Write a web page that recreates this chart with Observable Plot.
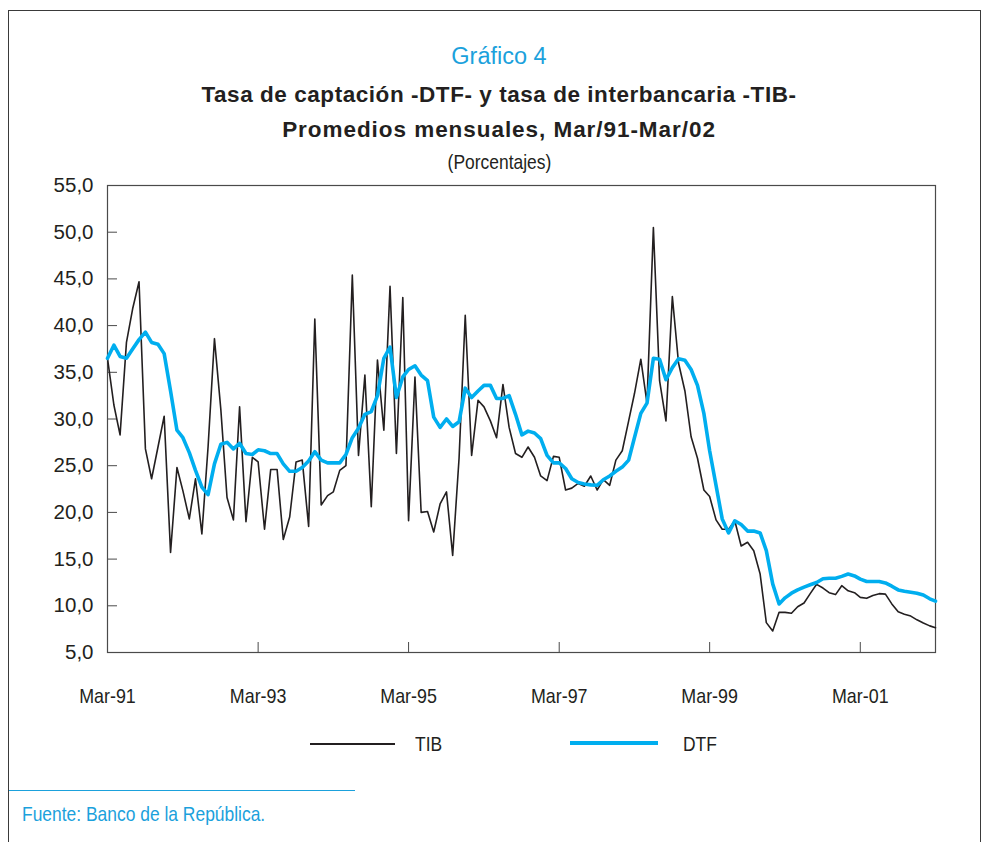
<!DOCTYPE html>
<html>
<head>
<meta charset="utf-8">
<script src="https://cdn.jsdelivr.net/npm/d3@7"></script>
<script src="https://cdn.jsdelivr.net/npm/@observablehq/plot@0.6"></script>
<style>
  html, body { margin: 0; padding: 0; background: #fff; }
  #page { position: relative; width: 984px; height: 842px; overflow: hidden; background: #fff;
          font-family: "Liberation Sans", Arial, sans-serif; color: #231f20; }
  #box { position: absolute; left: 8px; top: 10px; width: 971px; height: 840px;
         border-left: 1px solid #3a3a3a; border-top: 1px solid #3a3a3a; border-right: 1px solid #3a3a3a; }
  .center { position: absolute; left: 0; width: 998px; text-align: center; white-space: nowrap; }
  .cond { display: inline-block; transform: scaleX(0.83); }
  .center .cond { transform-origin: 50% 50%; }
  #gnum { top: 43px; font-size: 23.5px; color: #1ba1dc; }
  #t1 { top: 82px; font-weight: bold; font-size: 22.5px; letter-spacing: 0.55px; }
  #t2 { top: 117px; font-weight: bold; font-size: 22.5px; letter-spacing: 0.95px; }
  #t3 { top: 150px; font-size: 21px; }
  #chart { position: absolute; left: 0; top: 170px; }
  .leg { position: absolute; font-size: 21px; white-space: nowrap; }
  .leg .cond, #fuente .cond { transform-origin: 0 50%; }
  .legline { position: absolute; }
  #sep { position: absolute; left: 9px; top: 790px; width: 346px; height: 0; border-top: 1.5px solid #1ba1dc; }
  #fuente { position: absolute; left: 22px; top: 802px; font-size: 21px; color: #1ba1dc; white-space: nowrap; }
</style>
</head>
<body>
<div id="page">
  <div id="box"></div>
  <div id="gnum" class="center">Gráfico 4</div>
  <div id="t1" class="center">Tasa de captación -DTF- y tasa de interbancaria -TIB-</div>
  <div id="t2" class="center">Promedios mensuales, Mar/91-Mar/02</div>
  <div id="t3" class="center"><span class="cond">(Porcentajes)</span></div>
  <div id="chart"></div>
  <div class="legline" style="left:310px; top:743px; width:85px; height:1.5px; background:#231f20;"></div>
  <div class="leg" style="left:415px; top:732px;"><span class="cond">TIB</span></div>
  <div class="legline" style="left:570px; top:741px; width:88px; height:3.5px; background:#00aeef;"></div>
  <div class="leg" style="left:683px; top:732px;"><span class="cond">DTF</span></div>
  <div id="sep"></div>
  <div id="fuente"><span class="cond">Fuente: Banco de la República.</span></div>
</div>
<script>
// Monthly averages, Mar/91 .. Mar/02 (133 months)
const tib = [
  36.5, 31.5, 28.3, 38.2, 41.8, 44.7, 26.8, 23.6, 27.0, 30.3,
  15.7, 24.8, 22.3, 19.3, 23.6, 17.7, 27.0, 38.6, 31.0, 21.6,
  19.2, 31.3, 19.0, 25.9, 25.4, 18.2, 24.6, 24.6, 17.1, 19.5,
  25.4, 25.6, 18.5, 40.7, 20.8, 21.8, 22.2, 24.5, 25.0, 45.4,
  26.1, 34.7, 20.6, 36.3, 28.8, 44.2, 26.3, 43.0, 19.1, 34.5,
  20.0, 20.1, 17.9, 20.9, 22.2, 15.4, 25.8, 41.1, 26.1, 32.0,
  31.3, 29.8, 28.0, 33.7, 29.1, 26.3, 25.9, 27.0, 25.9, 23.9,
  23.4, 26.0, 25.9, 22.4, 22.6, 23.1, 22.8, 23.9, 22.4, 23.5,
  22.9, 25.6, 26.6, 29.8, 32.7, 36.4, 31.7, 50.5, 34.1, 29.8,
  43.1, 36.0, 33.0, 28.1, 25.8, 22.4, 21.7, 19.2, 18.2, 18.2,
  19.1, 16.4, 16.8, 15.9, 13.4, 8.2, 7.3, 9.3, 9.3, 9.2,
  9.9, 10.3, 11.3, 12.3, 11.9, 11.4, 11.2, 12.15, 11.6, 11.4,
  10.9, 10.8, 11.1, 11.3, 11.25, 10.2, 9.35, 9.1, 8.9, 8.5,
  8.15, 7.85, 7.65
];
const dtf = [
  36.5, 37.9, 36.7, 36.5, 37.5, 38.5, 39.3, 38.2, 38.0, 37.0,
  33.0, 28.8, 28.0, 26.4, 24.5, 22.7, 21.9, 25.2, 27.3, 27.5,
  26.8, 27.4, 26.3, 26.2, 26.7, 26.6, 26.3, 26.3, 25.2, 24.4,
  24.4, 24.8, 25.5, 26.5, 25.6, 25.3, 25.3, 25.3, 26.2, 28.0,
  29.0, 30.5, 30.8, 32.5, 36.5, 37.7, 32.3, 34.5, 35.3, 35.7,
  34.7, 34.1, 30.2, 29.1, 30.0, 29.2, 29.7, 33.3, 32.3, 33.0,
  33.6, 33.6, 32.2, 32.2, 32.5, 30.5, 28.3, 28.7, 28.5, 27.9,
  26.1, 25.3, 25.3, 24.7, 23.6, 23.2, 23.05, 22.95, 22.9, 23.5,
  23.9, 24.4, 24.85, 25.6, 28.0, 30.6, 31.7, 36.5, 36.4, 34.2,
  35.5, 36.45, 36.3, 35.3, 33.6, 30.6, 26.6, 22.9, 19.3, 17.8,
  19.1, 18.7, 18.0, 18.0, 17.8, 15.9, 12.35, 10.2, 10.85, 11.35,
  11.7, 12.0, 12.25, 12.5, 12.9, 12.95, 12.95, 13.15, 13.4, 13.2,
  12.85, 12.6, 12.6, 12.6, 12.45, 12.1, 11.7, 11.55, 11.45, 11.35,
  11.15, 10.75, 10.5
];
const xTickLabels = ["Mar-91", "Mar-93", "Mar-95", "Mar-97", "Mar-99", "Mar-01"];
const xTickYears = [1991, 1993, 1995, 1997, 1999, 2001];
const yTicks = [5, 10, 15, 20, 25, 30, 35, 40, 45, 50, 55];

const dates = tib.map((_, i) => new Date(Date.UTC(1991, 2 + i, 1)));
const rows = dates.map((d, i) => ({date: d, tib: tib[i], dtf: dtf[i]}));
const tickDates = xTickYears.map(y => new Date(Date.UTC(y, 2, 1)));
const xLabel = d => xTickLabels[tickDates.findIndex(t => +t === +d)];
const yLabel = v => v.toFixed(1).replace(".", ",");

const axisColor = "#4a4a4a";
const chart = Plot.plot({
  width: 984,
  height: 560,
  marginLeft: 107,
  marginRight: 49,
  marginTop: 15,
  marginBottom: 78,
  x: {type: "utc", domain: [dates[0], dates[dates.length - 1]]},
  y: {domain: [5, 55]},
  style: {background: "transparent", color: "#231f20", fontFamily: "'Liberation Sans', Arial, sans-serif", fontSize: "21px"},
  marks: [
    Plot.frame({stroke: axisColor, strokeWidth: 1.2}),
    Plot.axisY({ticks: yTicks, tickSize: -10, stroke: axisColor, tickFormat: () => ""}),
    Plot.axisY({ticks: yTicks, tickSize: 0, tickPadding: 14, tickFormat: yLabel, fontSize: 20.5}),
    Plot.axisX({ticks: tickDates, tickSize: -10, stroke: axisColor, tickFormat: () => ""}),
    Plot.axisX({ticks: tickDates, tickSize: 0, tickPadding: 36, tickFormat: xLabel}),
    Plot.line(rows, {x: "date", y: "tib", stroke: "#231f20", strokeWidth: 1.6}),
    Plot.line(rows, {x: "date", y: "dtf", stroke: "#00aeef", strokeWidth: 3.6})
  ]
});
document.getElementById("chart").appendChild(chart);
// condense the x tick labels (narrow typeface look)
chart.querySelectorAll("text").forEach(t => {
  if (!xTickLabels.includes(t.textContent.trim())) return;
  const w = t.getComputedTextLength();
  if (w > 0) {
    t.setAttribute("textLength", (w * 0.85).toFixed(1));
    t.setAttribute("lengthAdjust", "spacingAndGlyphs");
  }
});
</script>
</body>
</html>
